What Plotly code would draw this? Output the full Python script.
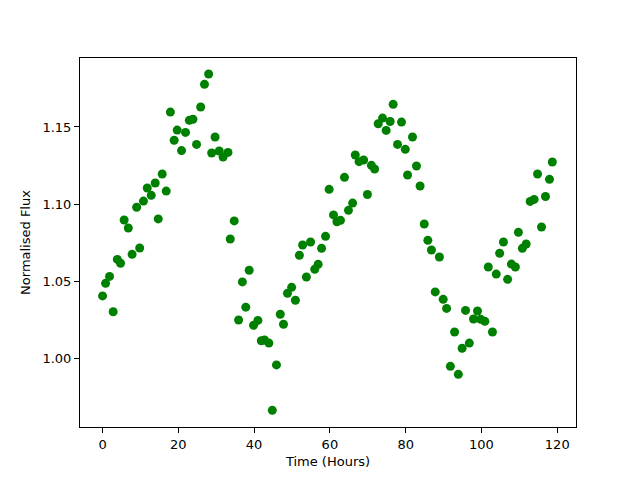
import plotly.graph_objects as go

time_hours = [0.0, 0.8, 1.85, 2.8, 3.9, 4.75, 5.7, 6.8, 7.8, 9.0, 9.8, 10.8, 11.8, 12.85, 13.9,
              14.7, 15.75, 16.8, 17.9, 18.9, 19.7, 20.85, 21.9, 22.9, 23.85, 24.8, 25.9, 26.9,
              28.0, 28.8, 29.7, 30.8, 31.8, 33.1, 33.7, 34.75, 35.9, 36.9, 37.8, 38.7, 39.85,
              41.0, 41.9, 42.75, 43.9, 44.8, 45.9, 46.9, 47.75, 48.8, 49.9, 50.9, 51.95, 52.8,
              53.8, 54.9, 56.0, 56.9, 57.8, 58.85, 59.8, 60.95, 61.85, 62.8, 63.85, 64.9, 66.0,
              66.7, 67.7, 68.9, 69.9, 70.95, 71.8, 72.75, 73.9, 74.85, 75.9, 76.7, 77.85, 78.9,
              79.9, 80.5, 81.8, 82.85, 83.8, 84.9, 85.85, 86.8, 87.8, 88.9, 89.9, 90.8, 91.8,
              92.9, 93.9, 94.9, 95.8, 96.8, 97.9, 98.95, 99.8, 100.9, 101.8, 102.9, 103.9, 104.8,
              105.8, 106.9, 107.9, 108.95, 109.75, 110.8, 111.8, 112.85, 113.9, 114.8, 115.85,
              116.9, 117.95, 118.7]

normalised_flux = [1.0403, 1.0485, 1.053, 1.030, 1.064, 1.0615, 1.0896, 1.0844, 1.0673, 1.0979,
                   1.0714, 1.1019, 1.1104, 1.1056, 1.1136, 1.0903, 1.1195, 1.1084, 1.1597, 1.1414,
                   1.148, 1.1347, 1.1465, 1.1543, 1.155, 1.1387, 1.163, 1.1777, 1.1844, 1.1331,
                   1.1435, 1.1344, 1.1305, 1.1335, 1.0773, 1.089, 1.0247, 1.0494, 1.033, 1.057,
                   1.0212, 1.0244, 1.0112, 1.0117, 1.0097, 0.966, 0.9955, 1.0284, 1.0219, 1.042,
                   1.0459, 1.0375, 1.0667, 1.0734, 1.0526, 1.0753, 1.0576, 1.0608, 1.0712, 1.079,
                   1.1095, 1.0929, 1.0885, 1.0894, 1.1173, 1.0959, 1.1006, 1.1318, 1.1275, 1.1286,
                   1.1062, 1.1251, 1.1227, 1.1521, 1.1558, 1.1478, 1.1536, 1.1647, 1.1387, 1.1532,
                   1.1355, 1.1188, 1.1435, 1.1247, 1.1117, 1.087, 1.0764, 1.0701, 1.0429, 1.0656,
                   1.0381, 1.0322, 0.9946, 1.0169, 0.9894, 1.0063, 1.0309, 1.0097, 1.0253, 1.0305,
                   1.0251, 1.0238, 1.0591, 1.0169, 1.0545, 1.068, 1.0753, 1.0511, 1.061, 1.0591,
                   1.0816, 1.0712, 1.074, 1.1017, 1.103, 1.1195, 1.0851, 1.1049, 1.116, 1.1273]

x_ticks = [0, 20, 40, 60, 80, 100, 120]
y_ticks = [1.00, 1.05, 1.10, 1.15]

fig = go.Figure(go.Scatter(
    x=time_hours, y=normalised_flux, mode="markers",
    marker=dict(color="#008000", size=9, line=dict(width=0)),
))

axis_common = dict(
    showline=True, linecolor="black", linewidth=1, mirror=True,
    ticks="outside", ticklen=5, tickwidth=1, tickcolor="black",
    showgrid=False, zeroline=False,
    tickfont=dict(family="DejaVu Sans", size=13, color="black"),
)

fig.update_layout(
    width=632, height=472,
    paper_bgcolor="white", plot_bgcolor="white",
    margin=dict(l=72, r=64, t=50, b=53, autoexpand=False),
    showlegend=False,
    font=dict(family="DejaVu Sans", size=13, color="black"),
    xaxis=dict(range=[-5.95, 124.95], tickvals=x_ticks, automargin=False,
               title=dict(text="Time (Hours)", standoff=6, font=dict(size=13)),
               **axis_common),
    yaxis=dict(range=[0.9552, 1.1948], tickvals=y_ticks, tickformat=".2f", automargin=False,
               title=dict(text="Normalised Flux", standoff=8, font=dict(size=13)),
               **axis_common),
)

fig.write_html("out.html")
